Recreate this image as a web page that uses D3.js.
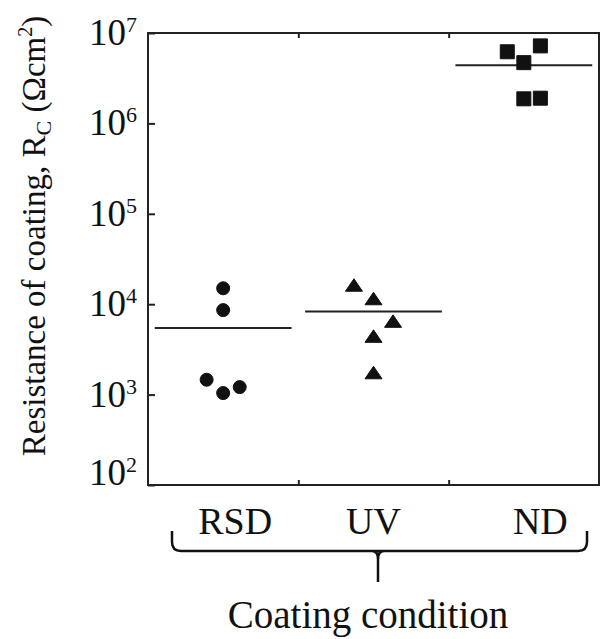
<!DOCTYPE html>
<html>
<head>
<meta charset="utf-8">
<script src="https://cdn.jsdelivr.net/npm/d3@7/dist/d3.min.js"></script>
<style>
  html, body { margin: 0; padding: 0; background: #fff; }
  svg { display: block; }
  text { font-family: "Liberation Serif", "Times New Roman", serif; fill: #111; }
</style>
</head>
<body>
<svg id="chart" width="600" height="639"></svg>
<script>
// Coating conditions along the x axis
const categories = ["RSD", "UV", "ND"];

// Coating resistance Rc (Ω·cm²) for each specimen, with a small horizontal spread
const rsdValues  = [15000, 8600, 1460, 1040, 1210];
const rsdSpread  = [0, 0, -0.11, 0, 0.11];
const uvValues   = [15800, 11200, 6300, 4300, 1700];
const uvSpread   = [-0.13, 0, 0.13, 0, 0];
const ndValues   = [6200000, 4700000, 7200000, 1870000, 1900000];
const ndSpread   = [-0.11, 0, 0.11, 0, 0.11];

// Mean resistance per condition
const meanValues = [5460, 8300, 4400000];

// Decade ticks on the log axis
const yTickExponents = [2, 3, 4, 5, 6, 7];

const svg = d3.select("#chart");
const plotLeft = 148, plotRight = 599, plotTop = 33, plotBottom = 485;

const x = d3.scaleLinear().domain([0, 3]).range([plotLeft, plotRight]);
const y = d3.scaleLog().domain([1e2, 1e7]).range([plotBottom, plotTop]);

const ink = "#111";

// Frame
svg.append("rect")
  .attr("x", plotLeft).attr("y", plotTop)
  .attr("width", plotRight - plotLeft).attr("height", plotBottom - plotTop)
  .attr("fill", "none").attr("stroke", "#222").attr("stroke-width", 2);

// Inward ticks on the left axis
const yAxis = d3.axisRight(y)
  .tickValues(yTickExponents.map(e => Math.pow(10, e)))
  .tickSize(7).tickFormat("");
const gy = svg.append("g").attr("transform", `translate(${plotLeft},0)`).call(yAxis);
gy.select(".domain").remove();
gy.selectAll(".tick line").attr("stroke", "#222").attr("stroke-width", 2);

// Inward ticks on top and bottom axes
const xTicks = [1, 2];
const gxb = svg.append("g").attr("transform", `translate(0,${plotBottom})`)
  .call(d3.axisTop(x).tickValues(xTicks).tickSize(5).tickFormat(""));
const gxt = svg.append("g").attr("transform", `translate(0,${plotTop})`)
  .call(d3.axisBottom(x).tickValues(xTicks).tickSize(5).tickFormat(""));
[gxb, gxt].forEach(g => {
  g.select(".domain").remove();
  g.selectAll(".tick line").attr("stroke", "#222").attr("stroke-width", 2);
});

// Tick labels: 10 with a superscript exponent
const ylab = svg.append("g");
yTickExponents.forEach(e => {
  const ty = Math.min(y(Math.pow(10, e)) + 12, plotBottom);
  const t = ylab.append("text")
    .attr("x", 137).attr("y", ty)
    .attr("text-anchor", "end")
    .style("font-size", "37px");
  t.append("tspan").text("10");
  t.append("tspan").attr("dy", -13).style("font-size", "22px").text(String(e));
});

// Y axis title
const yt = svg.append("text")
  .attr("transform", "translate(45,236) rotate(-90)")
  .attr("text-anchor", "middle")
  .style("font-size", "33px");
yt.append("tspan").text("Resistance of coating, R");
yt.append("tspan").attr("dy", 6).style("font-size", "22px").text("C");
yt.append("tspan").attr("dy", -6).text(" (Ωcm");
yt.append("tspan").attr("dy", -13).style("font-size", "20px").text("2");
yt.append("tspan").attr("dy", 13).text(")");

// Mean lines
const halfWidth = 0.455;
svg.append("g").selectAll("line")
  .data(meanValues)
  .join("line")
  .attr("x1", (d, i) => x(i + 0.5 - halfWidth))
  .attr("x2", (d, i) => x(i + 0.5 + halfWidth))
  .attr("y1", d => y(d)).attr("y2", d => y(d))
  .attr("stroke", "#222").attr("stroke-width", 2);

// Markers
const circlePath = d3.symbol().type(d3.symbolCircle).size(Math.PI * 6.5 * 6.5)();
const trianglePath = "M0,-7.5L8.5,5L-8.5,5Z";
const squarePath = "M-7,-7H7V7H-7Z";

function plotGroup(values, spread, index, shape) {
  svg.append("g").selectAll("path")
    .data(values.map((v, k) => ({ v, dx: spread[k] })))
    .join("path")
    .attr("transform", d => `translate(${x(index + 0.5 + d.dx)},${y(d.v)})`)
    .attr("d", shape)
    .attr("fill", ink)
    .attr("stroke", ink).attr("stroke-width", 1).attr("stroke-linejoin", "round");
}
plotGroup(rsdValues, rsdSpread, 0, circlePath);
plotGroup(uvValues, uvSpread, 1, trianglePath);
plotGroup(ndValues, ndSpread, 2, squarePath);

// Category labels
const labelShift = [0.08, 0, 0.11];
svg.append("g").selectAll("text")
  .data(categories)
  .join("text")
  .attr("x", (d, i) => x(i + 0.5 + labelShift[i]))
  .attr("y", 534)
  .attr("text-anchor", "middle")
  .style("font-size", "38px")
  .text(d => d);

// Brace grouping the categories
const bx0 = 172, bx1 = 587, bxm = 378, byTop = 531, byLine = 551, byTip = 582, r = 9;
const brace = d3.path();
brace.moveTo(bx0, byTop);
brace.lineTo(bx0, byLine - r);
brace.quadraticCurveTo(bx0, byLine, bx0 + r, byLine);
brace.lineTo(bx1 - r, byLine);
brace.quadraticCurveTo(bx1, byLine, bx1, byLine - r);
brace.lineTo(bx1, byTop);
brace.moveTo(bxm - 6, byLine);
brace.quadraticCurveTo(bxm, byLine, bxm, byLine + 8);
brace.lineTo(bxm, byTip);
brace.moveTo(bxm + 6, byLine);
brace.quadraticCurveTo(bxm, byLine, bxm, byLine + 8);
svg.append("path")
  .attr("d", brace.toString())
  .attr("fill", "none").attr("stroke", "#111").attr("stroke-width", 2.5);

// X axis title
svg.append("text")
  .attr("x", 368).attr("y", 628)
  .attr("text-anchor", "middle")
  .style("font-size", "39px")
  .text("Coating condition");
</script>
</body>
</html>
